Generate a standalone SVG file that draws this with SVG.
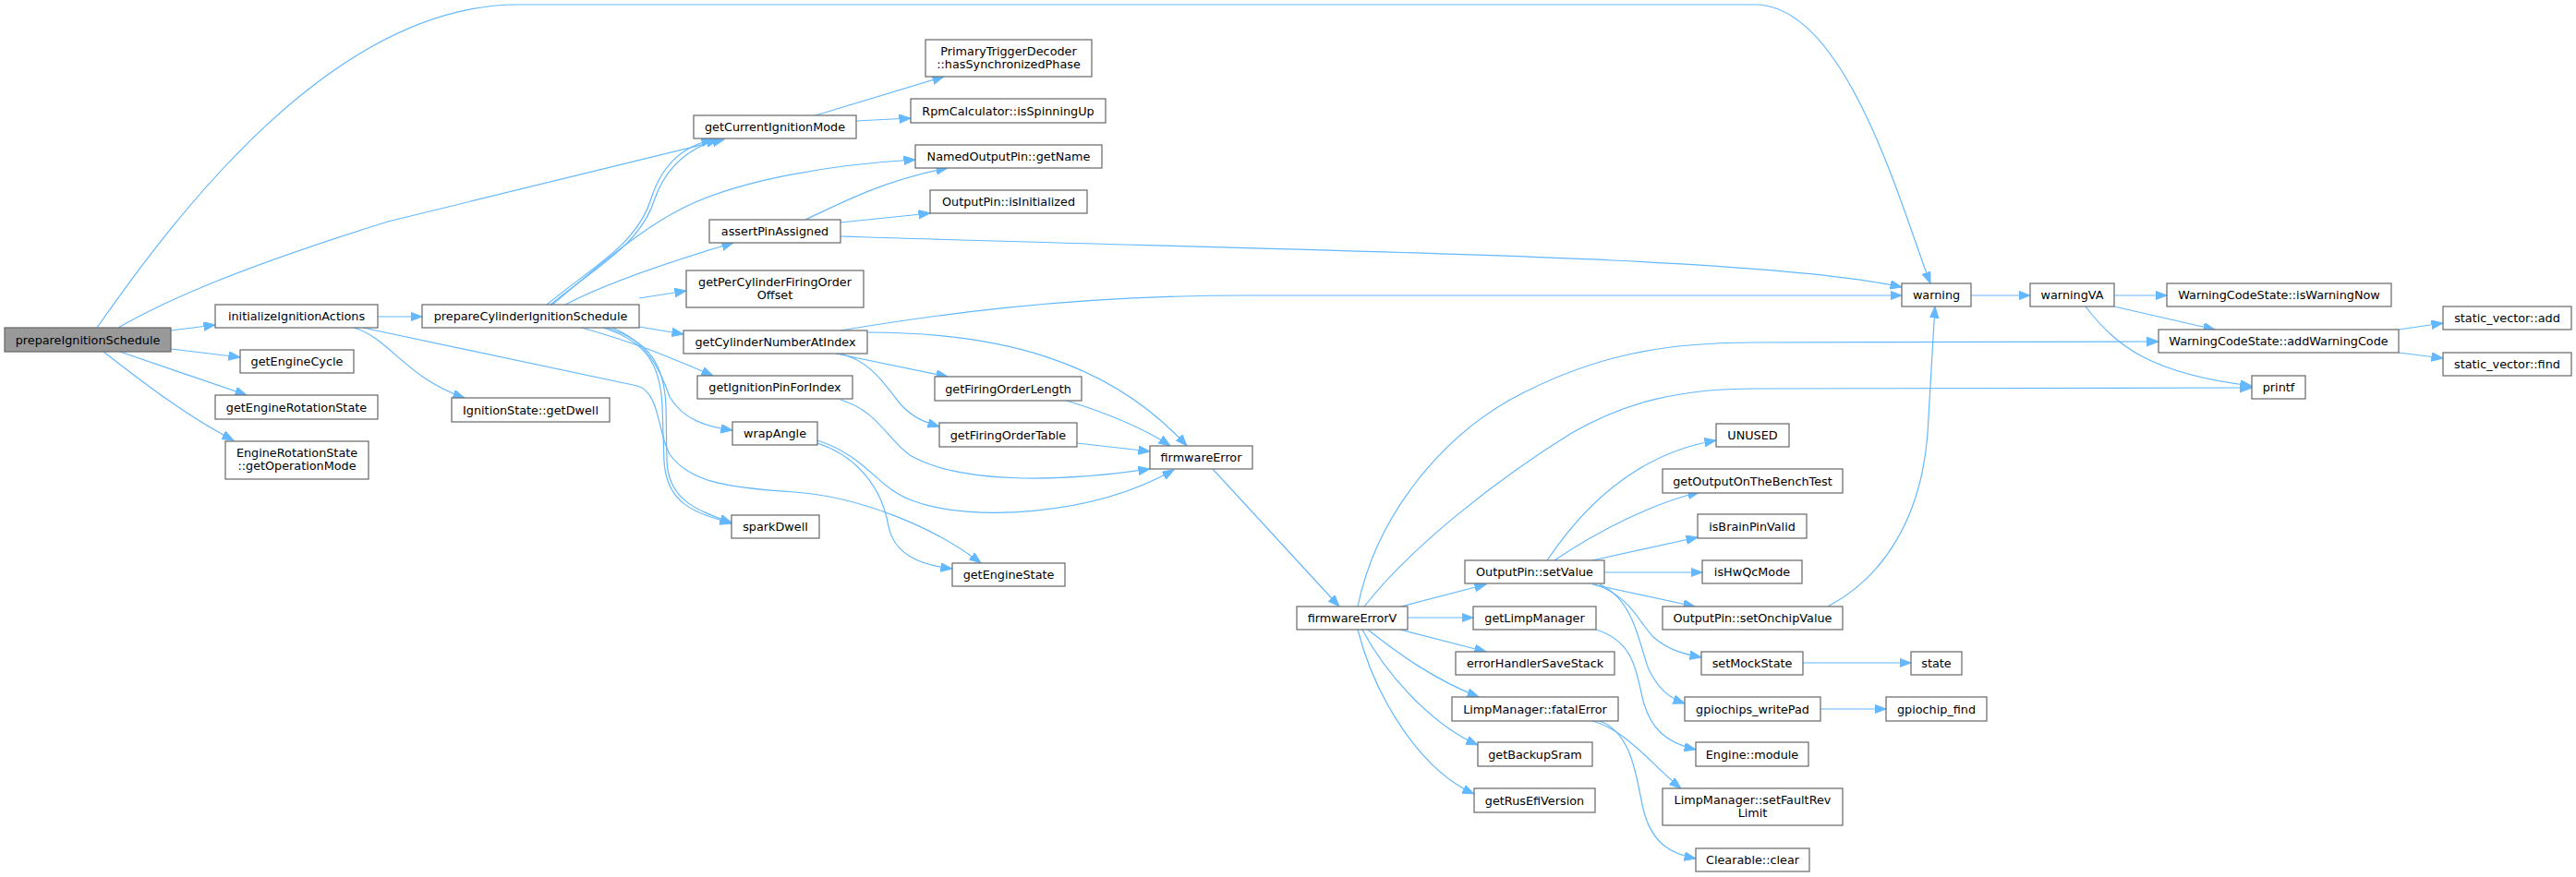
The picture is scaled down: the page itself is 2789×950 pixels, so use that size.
<svg xmlns="http://www.w3.org/2000/svg" width="2789" height="950" viewBox="0 0 2789 950">
<style>
.n rect{fill:#ffffff;stroke:#666666;stroke-width:1.2}
.n.root rect{fill:#999999}
text{font-family:"DejaVu Sans","Liberation Sans",sans-serif;font-size:12.8px;text-anchor:middle;fill:#000000}
#edges path{fill:none;stroke:#63b8ff;stroke-width:1.2;marker-end:url(#a)}
</style>
<defs>
<marker id="a" markerWidth="14" markerHeight="11" refX="12.5" refY="4.75" orient="auto" markerUnits="userSpaceOnUse">
<path d="M0,0 L12.5,4.75 L0,9.5 z" fill="#63b8ff" stroke="#63b8ff" stroke-width="1"/>
</marker>
</defs>
<rect width="2789" height="950" fill="#ffffff"/>
<g id="edges">
<path d="M105,355 C191,232 361,5 561,5 L1900,5 C2000,5 2060,230 2090,307"/>
<path d="M128,355 C180,325 260,290 420,240 L784,151"/>
<path d="M185,358 L233,352"/>
<path d="M185,378 L260,387"/>
<path d="M130,381 C170,395 230,415 267,428"/>
<path d="M112,381 C150,410 200,450 253,477"/>
<path d="M409,343 L457,343"/>
<path d="M383,355 C420,365 440,410 503,431"/>
<path d="M393,355 L690,418 C715,425 712,470 725,492 C745,520 780,528 860,533 C930,538 1010,570 1062,610"/>
<path d="M592,330 C640,290 690,265 705,215 C718,175 742,158 772,151"/>
<path d="M596,330 C644,290 694,265 709,215 C722,178 748,160 777,151"/>
<path d="M598,330 C640,295 690,250 740,225 C800,195 900,178 991,173"/>
<path d="M612,330 C650,310 720,285 794,263"/>
<path d="M692,323 L743,315"/>
<path d="M692,354 L740,362"/>
<path d="M630,355 C690,372 720,385 772,407"/>
<path d="M663,355 C700,370 715,400 725,430 C740,455 765,462 793,466"/>
<path d="M653,355 C700,370 715,395 717,440 L719,500 C722,545 750,555 792,567"/>
<path d="M657,355 C704,370 719,395 721,440 L722,500 C724,540 752,553 792,566"/>
<path d="M883,125 L1022,83"/>
<path d="M927,131 L986,128"/>
<path d="M872,238 C920,215 960,195 1026,182"/>
<path d="M910,241 L1007,231"/>
<path d="M910,256 C1400,272 1900,276 2059,311"/>
<path d="M910,358 C1000,343 1150,320 1350,320 L2059,320"/>
<path d="M939,360 C1080,360 1200,390 1285,483"/>
<path d="M905,383 L1026,408"/>
<path d="M910,383 C945,392 960,420 975,438 C988,452 1000,457 1017,462"/>
<path d="M1155,434 C1200,448 1240,465 1267,483"/>
<path d="M1166,480 L1245,489"/>
<path d="M910,433 C950,445 960,475 985,493 C1040,525 1150,522 1245,508"/>
<path d="M885,477 C940,495 950,530 990,543 C1050,565 1180,560 1271,509"/>
<path d="M885,480 C930,495 955,530 962,570 C968,600 995,612 1031,616"/>
<path d="M1313,508 L1450,657"/>
<path d="M1470,657 C1490,560 1560,470 1650,425 C1730,385 1800,371 1900,371 L2337,370"/>
<path d="M1477,657 C1530,590 1620,520 1700,470 C1760,435 1820,421 1900,421 L2438,420"/>
<path d="M1517,657 L1609,633"/>
<path d="M1524,669 L1595,669"/>
<path d="M1516,682 L1609,706"/>
<path d="M1481,682 C1510,705 1550,735 1601,755"/>
<path d="M1475,682 C1500,730 1550,785 1600,807"/>
<path d="M1470,682 C1490,760 1540,835 1596,860"/>
<path d="M1675,607 C1720,540 1780,490 1858,477"/>
<path d="M1683,607 C1730,575 1790,545 1840,533"/>
<path d="M1724,607 L1838,582"/>
<path d="M1737,620 L1843,620"/>
<path d="M1724,633 L1835,657"/>
<path d="M1726,633 C1765,645 1775,675 1790,690 C1805,703 1820,708 1842,712"/>
<path d="M1732,633 C1770,650 1775,700 1785,725 C1795,745 1805,755 1824,762"/>
<path d="M1979,657 C2040,625 2080,560 2087,470 C2090,420 2092,380 2095,332"/>
<path d="M1952,718 L2069,718"/>
<path d="M1971,768 L2042,768"/>
<path d="M1728,682 C1770,695 1772,730 1778,755 C1786,790 1805,805 1836,812"/>
<path d="M1724,781 C1760,790 1790,830 1820,854"/>
<path d="M1732,781 C1770,795 1772,850 1780,880 C1790,915 1810,925 1836,930"/>
<path d="M2134,320 L2198,320"/>
<path d="M2289,320 L2346,320"/>
<path d="M2289,332 L2398,357"/>
<path d="M2258,332 C2290,375 2330,405 2438,418"/>
<path d="M2597,357 L2645,350"/>
<path d="M2597,382 L2645,388"/>
</g>
<g id="prepareIgnitionSchedule" class="n root"><rect x="5" y="355" width="180" height="26"/><text x="95" y="372.5">prepareIgnitionSchedule</text></g>
<g id="initializeIgnitionActions" class="n"><rect x="233" y="330" width="176" height="25"/><text x="321" y="347">initializeIgnitionActions</text></g>
<g id="getEngineCycle" class="n"><rect x="260" y="379" width="123" height="25"/><text x="321.5" y="396">getEngineCycle</text></g>
<g id="getEngineRotationState" class="n"><rect x="233" y="428" width="176" height="26"/><text x="321" y="445.5">getEngineRotationState</text></g>
<g id="getOperationMode" class="n"><rect x="244" y="478" width="155" height="41"/><text x="321.5" y="495">EngineRotationState</text><text x="321.5" y="509">::getOperationMode</text></g>
<g id="prepareCylinderIgnitionSchedule" class="n"><rect x="457" y="330" width="235" height="25"/><text x="574.5" y="347">prepareCylinderIgnitionSchedule</text></g>
<g id="getDwell" class="n"><rect x="489" y="431" width="171" height="26"/><text x="574.5" y="448.5">IgnitionState::getDwell</text></g>
<g id="getCurrentIgnitionMode" class="n"><rect x="751" y="125" width="176" height="25"/><text x="839" y="142">getCurrentIgnitionMode</text></g>
<g id="assertPinAssigned" class="n"><rect x="768" y="238" width="142" height="25"/><text x="839" y="255">assertPinAssigned</text></g>
<g id="getPerCylinderFiringOrderOffset" class="n"><rect x="743" y="293" width="192" height="40"/><text x="839" y="309.5">getPerCylinderFiringOrder</text><text x="839" y="323.5">Offset</text></g>
<g id="getCylinderNumberAtIndex" class="n"><rect x="740" y="358" width="199" height="25"/><text x="839.5" y="375">getCylinderNumberAtIndex</text></g>
<g id="getIgnitionPinForIndex" class="n"><rect x="755" y="407" width="168" height="25"/><text x="839" y="424">getIgnitionPinForIndex</text></g>
<g id="wrapAngle" class="n"><rect x="793" y="457" width="92" height="25"/><text x="839" y="474">wrapAngle</text></g>
<g id="sparkDwell" class="n"><rect x="792" y="558" width="95" height="25"/><text x="839.5" y="575">sparkDwell</text></g>
<g id="getEngineState" class="n"><rect x="1031" y="610" width="122" height="25"/><text x="1092" y="627">getEngineState</text></g>
<g id="hasSynchronizedPhase" class="n"><rect x="1002" y="43" width="180" height="40"/><text x="1092" y="59.5">PrimaryTriggerDecoder</text><text x="1092" y="73.5">::hasSynchronizedPhase</text></g>
<g id="isSpinningUp" class="n"><rect x="986" y="107" width="211" height="26"/><text x="1091.5" y="124.5">RpmCalculator::isSpinningUp</text></g>
<g id="getName" class="n"><rect x="991" y="157" width="202" height="25"/><text x="1092" y="174">NamedOutputPin::getName</text></g>
<g id="isInitialized" class="n"><rect x="1007" y="206" width="170" height="25"/><text x="1092" y="223">OutputPin::isInitialized</text></g>
<g id="getFiringOrderLength" class="n"><rect x="1012" y="408" width="159" height="26"/><text x="1091.5" y="425.5">getFiringOrderLength</text></g>
<g id="getFiringOrderTable" class="n"><rect x="1017" y="458" width="149" height="26"/><text x="1091.5" y="475.5">getFiringOrderTable</text></g>
<g id="firmwareError" class="n"><rect x="1245" y="483" width="111" height="25"/><text x="1300.5" y="500">firmwareError</text></g>
<g id="firmwareErrorV" class="n"><rect x="1404" y="657" width="120" height="25"/><text x="1464" y="674">firmwareErrorV</text></g>
<g id="warning" class="n"><rect x="2059" y="307" width="75" height="25"/><text x="2096.5" y="324">warning</text></g>
<g id="warningVA" class="n"><rect x="2198" y="307" width="91" height="25"/><text x="2243.5" y="324">warningVA</text></g>
<g id="isWarningNow" class="n"><rect x="2346" y="307" width="243" height="25"/><text x="2467.5" y="324">WarningCodeState::isWarningNow</text></g>
<g id="addWarningCode" class="n"><rect x="2337" y="357" width="260" height="25"/><text x="2467" y="374">WarningCodeState::addWarningCode</text></g>
<g id="static_vector_add" class="n"><rect x="2645" y="332" width="139" height="25"/><text x="2714.5" y="349">static_vector::add</text></g>
<g id="static_vector_find" class="n"><rect x="2645" y="382" width="139" height="25"/><text x="2714.5" y="399">static_vector::find</text></g>
<g id="printf" class="n"><rect x="2438" y="407" width="58" height="25"/><text x="2467" y="424">printf</text></g>
<g id="setValue" class="n"><rect x="1586" y="607" width="151" height="25"/><text x="1661.5" y="624">OutputPin::setValue</text></g>
<g id="getLimpManager" class="n"><rect x="1595" y="657" width="133" height="25"/><text x="1661.5" y="674">getLimpManager</text></g>
<g id="errorHandlerSaveStack" class="n"><rect x="1576" y="706" width="172" height="25"/><text x="1662" y="723">errorHandlerSaveStack</text></g>
<g id="fatalError" class="n"><rect x="1572" y="755" width="180" height="26"/><text x="1662" y="772.5">LimpManager::fatalError</text></g>
<g id="getBackupSram" class="n"><rect x="1600" y="804" width="124" height="26"/><text x="1662" y="821.5">getBackupSram</text></g>
<g id="getRusEfiVersion" class="n"><rect x="1596" y="854" width="131" height="26"/><text x="1661.5" y="871.5">getRusEfiVersion</text></g>
<g id="UNUSED" class="n"><rect x="1858" y="459" width="79" height="25"/><text x="1897.5" y="476">UNUSED</text></g>
<g id="getOutputOnTheBenchTest" class="n"><rect x="1800" y="508" width="195" height="26"/><text x="1897.5" y="525.5">getOutputOnTheBenchTest</text></g>
<g id="isBrainPinValid" class="n"><rect x="1838" y="557" width="118" height="26"/><text x="1897" y="574.5">isBrainPinValid</text></g>
<g id="isHwQcMode" class="n"><rect x="1843" y="607" width="108" height="25"/><text x="1897" y="624">isHwQcMode</text></g>
<g id="setOnchipValue" class="n"><rect x="1800" y="657" width="195" height="25"/><text x="1897.5" y="674">OutputPin::setOnchipValue</text></g>
<g id="setMockState" class="n"><rect x="1842" y="706" width="110" height="25"/><text x="1897" y="723">setMockState</text></g>
<g id="gpiochips_writePad" class="n"><rect x="1824" y="755" width="147" height="26"/><text x="1897.5" y="772.5">gpiochips_writePad</text></g>
<g id="Engine_module" class="n"><rect x="1836" y="804" width="122" height="26"/><text x="1897" y="821.5">Engine::module</text></g>
<g id="setFaultRevLimit" class="n"><rect x="1800" y="854" width="195" height="40"/><text x="1897.5" y="870.5">LimpManager::setFaultRev</text><text x="1897.5" y="884.5">Limit</text></g>
<g id="Clearable_clear" class="n"><rect x="1836" y="919" width="123" height="25"/><text x="1897.5" y="936">Clearable::clear</text></g>
<g id="state" class="n"><rect x="2069" y="706" width="55" height="25"/><text x="2096.5" y="723">state</text></g>
<g id="gpiochip_find" class="n"><rect x="2042" y="755" width="109" height="26"/><text x="2096.5" y="772.5">gpiochip_find</text></g>
</svg>
